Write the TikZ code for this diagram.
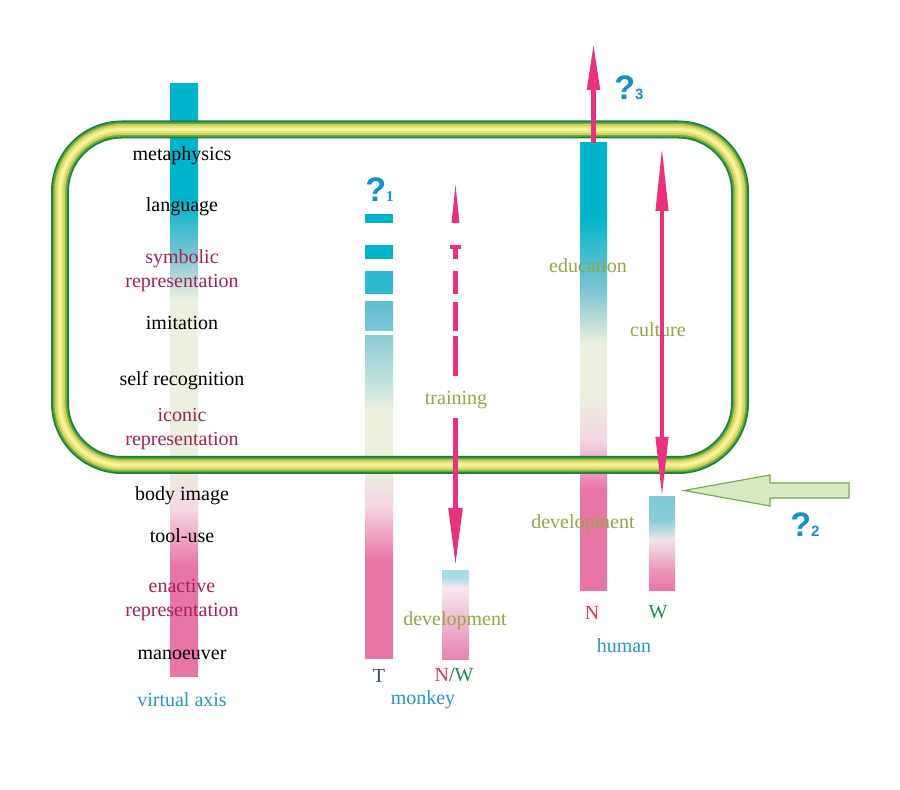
\documentclass[tikz,border=0pt]{standalone}
\usepackage{fontspec}
\setmainfont{Liberation Serif}
\setsansfont{Liberation Sans}
\usetikzlibrary{arrows.meta}

\definecolor{barcyan}{RGB}{0,180,204}
\definecolor{barblue}{RGB}{125,196,210}
\definecolor{barteal}{RGB}{190,225,220}
\definecolor{bartop}{RGB}{140,205,212}
\definecolor{barpale}{RGB}{236,240,222}
\definecolor{barpinklight}{RGB}{245,214,228}
\definecolor{barpink}{RGB}{232,118,165}
\definecolor{wtop}{RGB}{125,200,215}
\definecolor{wmid}{RGB}{140,205,215}
\definecolor{wwhite}{RGB}{240,228,232}
\definecolor{wrose}{RGB}{235,150,185}
\definecolor{nwtop}{RGB}{170,220,230}
\definecolor{nwwhite}{RGB}{248,232,240}
\definecolor{nwrose}{RGB}{240,185,210}
\definecolor{nwpink}{RGB}{232,130,178}

% vertical shadings: 25bp = bottom of the bar, 75bp = top
\pgfdeclareverticalshading{vaxisshade}{100bp}{color(0bp)=(barpink); color(25bp)=(barpink);
  color(34.4bp)=(barpink); color(39.1bp)=(barpinklight); color(42.9bp)=(barpale);
  color(56.8bp)=(barpale); color(60.6bp)=(barblue); color(65.2bp)=(barcyan);
  color(75bp)=(barcyan); color(100bp)=(barcyan)}
\pgfdeclareverticalshading{tbarshade}{100bp}{color(0bp)=(barpink); color(25bp)=(barpink);
  color(40.3bp)=(barpink); color(48.8bp)=(barpinklight); color(54.3bp)=(barpale);
  color(63.5bp)=(barpale); color(68.2bp)=(barteal); color(75bp)=(bartop);
  color(100bp)=(bartop)}
\pgfdeclareverticalshading{nbarshade}{100bp}{color(0bp)=(barpink); color(25bp)=(barpink);
  color(36.3bp)=(barpink); color(41.9bp)=(barpinklight); color(46.9bp)=(barpale);
  color(52.5bp)=(barpale); color(58.6bp)=(barblue); color(67bp)=(barcyan);
  color(75bp)=(barcyan); color(100bp)=(barcyan)}
\pgfdeclareverticalshading{wbarshade}{100bp}{color(0bp)=(barpink); color(25bp)=(barpink);
  color(36.2bp)=(wrose); color(52.1bp)=(wwhite); color(62.8bp)=(wmid);
  color(75bp)=(wtop); color(100bp)=(wtop)}
\pgfdeclareverticalshading{nwbarshade}{100bp}{color(0bp)=(nwpink); color(25bp)=(nwpink);
  color(47.5bp)=(nwrose); color(65.4bp)=(nwwhite); color(71.6bp)=(nwtop);
  color(75bp)=(nwtop); color(100bp)=(nwtop)}

\begin{document}
\begin{tikzpicture}[
        x=0.5pt, y=-0.5pt,
        bar/.style={rectangle, inner sep=0pt, outer sep=0pt, shade, shading=#1},
        level/.style={font=\fontsize{10}{12}\selectfont, align=center, inner sep=0pt},
        rep/.style={level, text=repred},
        process/.style={level, text=olive},
        group/.style={level, text=groupblue},
        query/.style={inner sep=0pt, anchor=base, text=qblue},
        pinkarrow/.style={draw=arrowpink, line width=2.5pt},
        hollowarrow/.style={fill=hollowfill, draw=hollowdraw, line width=0.6pt, line join=miter}
    ]

        \definecolor{repred}{RGB}{165,35,85}
        \definecolor{olive}{RGB}{150,165,70}
        \definecolor{groupblue}{RGB}{40,150,200}
        \definecolor{qblue}{RGB}{20,145,200}
        \definecolor{arrowpink}{RGB}{232,50,125}
        \definecolor{hollowfill}{RGB}{215,235,195}
        \definecolor{hollowdraw}{RGB}{120,170,80}
        \definecolor{tubedark}{RGB}{25,130,60}
        \definecolor{tubegreen}{RGB}{110,170,65}
        \definecolor{tubelime}{RGB}{200,210,95}
        \definecolor{tubeyellow}{RGB}{235,228,115}
        \definecolor{tubelight}{RGB}{248,242,165}
        \definecolor{dashthree}{RGB}{45,186,206}
        \definecolor{dashfourtop}{RGB}{98,190,210}
        \definecolor{dashfourbot}{RGB}{122,198,214}
        \definecolor{tblue}{RGB}{50,70,120}
        \definecolor{nred}{RGB}{232,50,75}
        \definecolor{wgreen}{RGB}{30,140,75}

        \useasboundingbox[fill=white] (0,0) rectangle (900,790);

        % bars
        \node[bar=vaxisshade, minimum width=14pt, minimum height=296.5pt] (vaxis) at (184,380.5) {};
        \node[bar=tbarshade, minimum width=14pt, minimum height=161.5pt] (Tbar) at (379,497.5) {};
        \fill[barcyan] (365,214) rectangle (393,223);
        \fill[barcyan] (365,245) rectangle (393,259);
        \fill[dashthree] (365,271) rectangle (393,294);
        \shade[top color=dashfourtop, bottom color=dashfourbot] (365,302) rectangle (393,331);
        \node[bar=nwbarshade, minimum width=13.5pt, minimum height=44.5pt] (NWbar) at (455.5,615.5) {};
        \node[bar=nbarshade, minimum width=13.5pt, minimum height=224pt] (Nbar) at (593.5,367) {};
        \node[bar=wbarshade, minimum width=13pt, minimum height=47pt] (Wbar) at (662,544) {};

        % tube
        \foreach \w/\c in {9pt/tubedark, 7.2pt/tubegreen, 5.4pt/tubelime, 3.4pt/tubeyellow, 1.5pt/tubelight}
            \draw[line width=\w, \c, rounded corners=31pt] (60,129.5) rectangle (740,465);

        % levels of the virtual axis
        \node[level] (metaphysics) at (182,155.5) {metaphysics};
        \node[level] (language) at (182,206.5) {language};
        \node[rep] (symbolic) at (182,270.5) {symbolic\\representation};
        \node[level] (imitation) at (182,322.5) {imitation};
        \node[level] (selfrec) at (182,380.5) {self recognition};
        \node[rep] (iconic) at (182,429) {iconic\\representation};
        \node[level] (bodyimage) at (182,495.5) {body image};
        \node[level] (tooluse) at (182,535.5) {tool-use};
        \node[rep] (enactive) at (182,600.5) {enactive\\representation};
        \node[level] (manoeuver) at (182,654.5) {manoeuver};
        \node[group] (vaxislabel) at (182,699.5) {virtual axis};

        % monkey
        \node[level, text=tblue] (Tlabel) at (379,675.5) {T};
        \node[level] (NWlabel) at (454,675.5) {\textcolor{nred}{N}\textcolor{tblue}{/}\textcolor{wgreen}{W}};
        \node[group] (monkey) at (423,699.5) {monkey};
        \node[process] (training) at (456,400.5) {training};
        \node[process] (devmonkey) at (455,620.5) {development};

        \coordinate (trtop) at (455.5,185);
        \coordinate (trmid) at (455.5,418);
        \fill[arrowpink] (trtop) -- (459.5,223) -- (451.5,223) -- cycle;
        \fill[arrowpink] (450,245) rectangle (461,249);
        \fill[arrowpink] (453,249) rectangle (458,259);
        \fill[arrowpink] (453,271) rectangle (458,294);
        \fill[arrowpink] (453,302) rectangle (458,331);
        \fill[arrowpink] (453,336) rectangle (458,376);
        \draw[pinkarrow, line width=2.7pt, -{Triangle[length=30pt, width=6.5pt]}] (trmid) -- ([yshift=1.5pt]NWbar.north);

        % human
        \node[process] (education) at (588,265.5) {education};
        \node[process] (culture) at (658,329.5) {culture};
        \node[process] (devhuman) at (583,523.5) {development};
        \node[level, text=nred] (Nlabel) at (592,612.5) {N};
        \node[level, text=wgreen] (Wlabel) at (658,612.5) {W};
        \node[group] (human) at (624,645.5) {human};

        \coordinate (q3tip) at (593.5,42);
        \coordinate (cultop) at (662,147);
        \draw[pinkarrow, -{Triangle[length=24pt, width=6pt]}] (Nbar.north) -- (q3tip);
        \draw[pinkarrow, line width=2pt, {Triangle[length=32pt, width=6pt]}-{Triangle[length=30pt, width=6pt]}] (cultop) -- (Wbar.north);

        % pointer from outside
        \draw[hollowarrow] (684,490.5) -- (770,475) -- (770,483) -- (849,483) -- (849,498) -- (770,498) -- (770,506) -- cycle;

        % question marks
        \node[query] (q1) at (379.5,202) {{\sffamily\bfseries\fontsize{17}{17}\selectfont ?}{\bfseries\fontsize{7.5}{8}\selectfont 1}};
        \node[query] (q2) at (805,537) {{\sffamily\bfseries\fontsize{17}{17}\selectfont ?}{\sffamily\bfseries\fontsize{7.5}{8}\selectfont 2}};
        \node[query] (q3) at (629,100) {{\sffamily\bfseries\fontsize{17}{17}\selectfont ?}{\sffamily\bfseries\fontsize{7.5}{8}\selectfont 3}};
    \end{tikzpicture}
\end{document}
